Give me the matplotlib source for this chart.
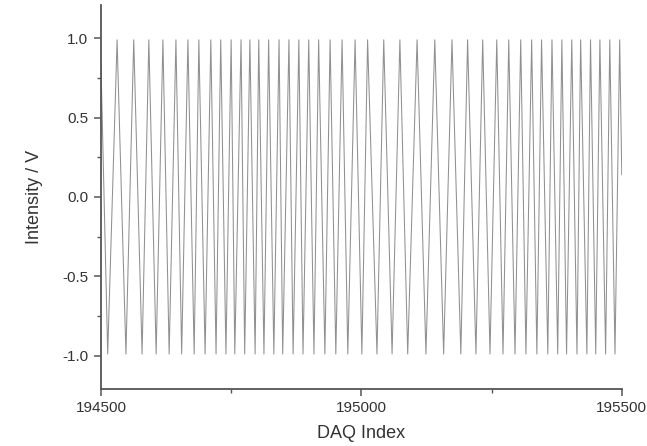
import matplotlib
matplotlib.use("Agg")
import matplotlib.pyplot as plt
from matplotlib.ticker import MultipleLocator, FormatStrFormatter

# DAQ index of each turning point of the recorded signal
trough_idx = [194513, 194548, 194579, 194606, 194631, 194655, 194679, 194700, 194721,
              194740, 194757, 194776, 194796, 194813, 194832, 194849, 194869, 194888,
              194909, 194930, 194951, 194974, 195001, 195030, 195059, 195089, 195124,
              195158, 195191, 195220, 195247, 195272, 195295, 195316, 195337, 195358,
              195377, 195394, 195414, 195433, 195450, 195469, 195487]
peak_idx = [194531, 194563, 194592, 194619, 194644, 194667, 194688, 194711, 194730,
            194750, 194769, 194786, 194803, 194822, 194842, 194861, 194880, 194899,
            194918, 194940, 194963, 194988, 195012, 195043, 195074, 195107, 195141,
            195174, 195204, 195233, 195260, 195283, 195306, 195327, 195346, 195366,
            195385, 195404, 195421, 195440, 195458, 195477, 195496]
peak_val = 0.99
trough_val = -0.99
start_idx, start_val = 194500, 0.85
end_idx, end_val = 195500, 0.14

# trace: start -> trough -> peak -> trough ... -> end
x = [start_idx]
y = [start_val]
for t, p in zip(trough_idx, peak_idx):
    x += [t, p]
    y += [trough_val, peak_val]
x.append(end_idx)
y.append(end_val)

plt.rcParams['font.family'] = ['Liberation Sans', 'DejaVu Sans']

fig = plt.figure(figsize=(6.47, 4.46), dpi=100)
ax = fig.add_axes([0.156, 0.128, 0.805, 0.861])
ax.plot(x, y, color="#909090", lw=0.75)

ax.set_xlim(194500, 195500)
ax.set_ylim(-1.21, 1.21)
ax.xaxis.set_major_locator(MultipleLocator(500))
ax.xaxis.set_minor_locator(MultipleLocator(250))
ax.yaxis.set_major_locator(MultipleLocator(0.5))
ax.yaxis.set_minor_locator(MultipleLocator(0.25))
ax.yaxis.set_major_formatter(FormatStrFormatter("%.1f"))

for s in ["top", "right"]:
    ax.spines[s].set_visible(False)
for s in ["left", "bottom"]:
    ax.spines[s].set_color("#555555")
    ax.spines[s].set_linewidth(1.3)
ax.tick_params(which="major", direction="out", length=5, width=1.1, color="#555555",
               labelsize=11, labelcolor="#333333", pad=4)
ax.tick_params(which="minor", direction="out", length=3, width=1.0, color="#555555")

ax.set_xlabel("DAQ Index", fontsize=13, color="#333333", labelpad=7)
ax.set_ylabel("Intensity / V", fontsize=13, color="#333333", labelpad=14)

fig.savefig("out.png", dpi=100)
